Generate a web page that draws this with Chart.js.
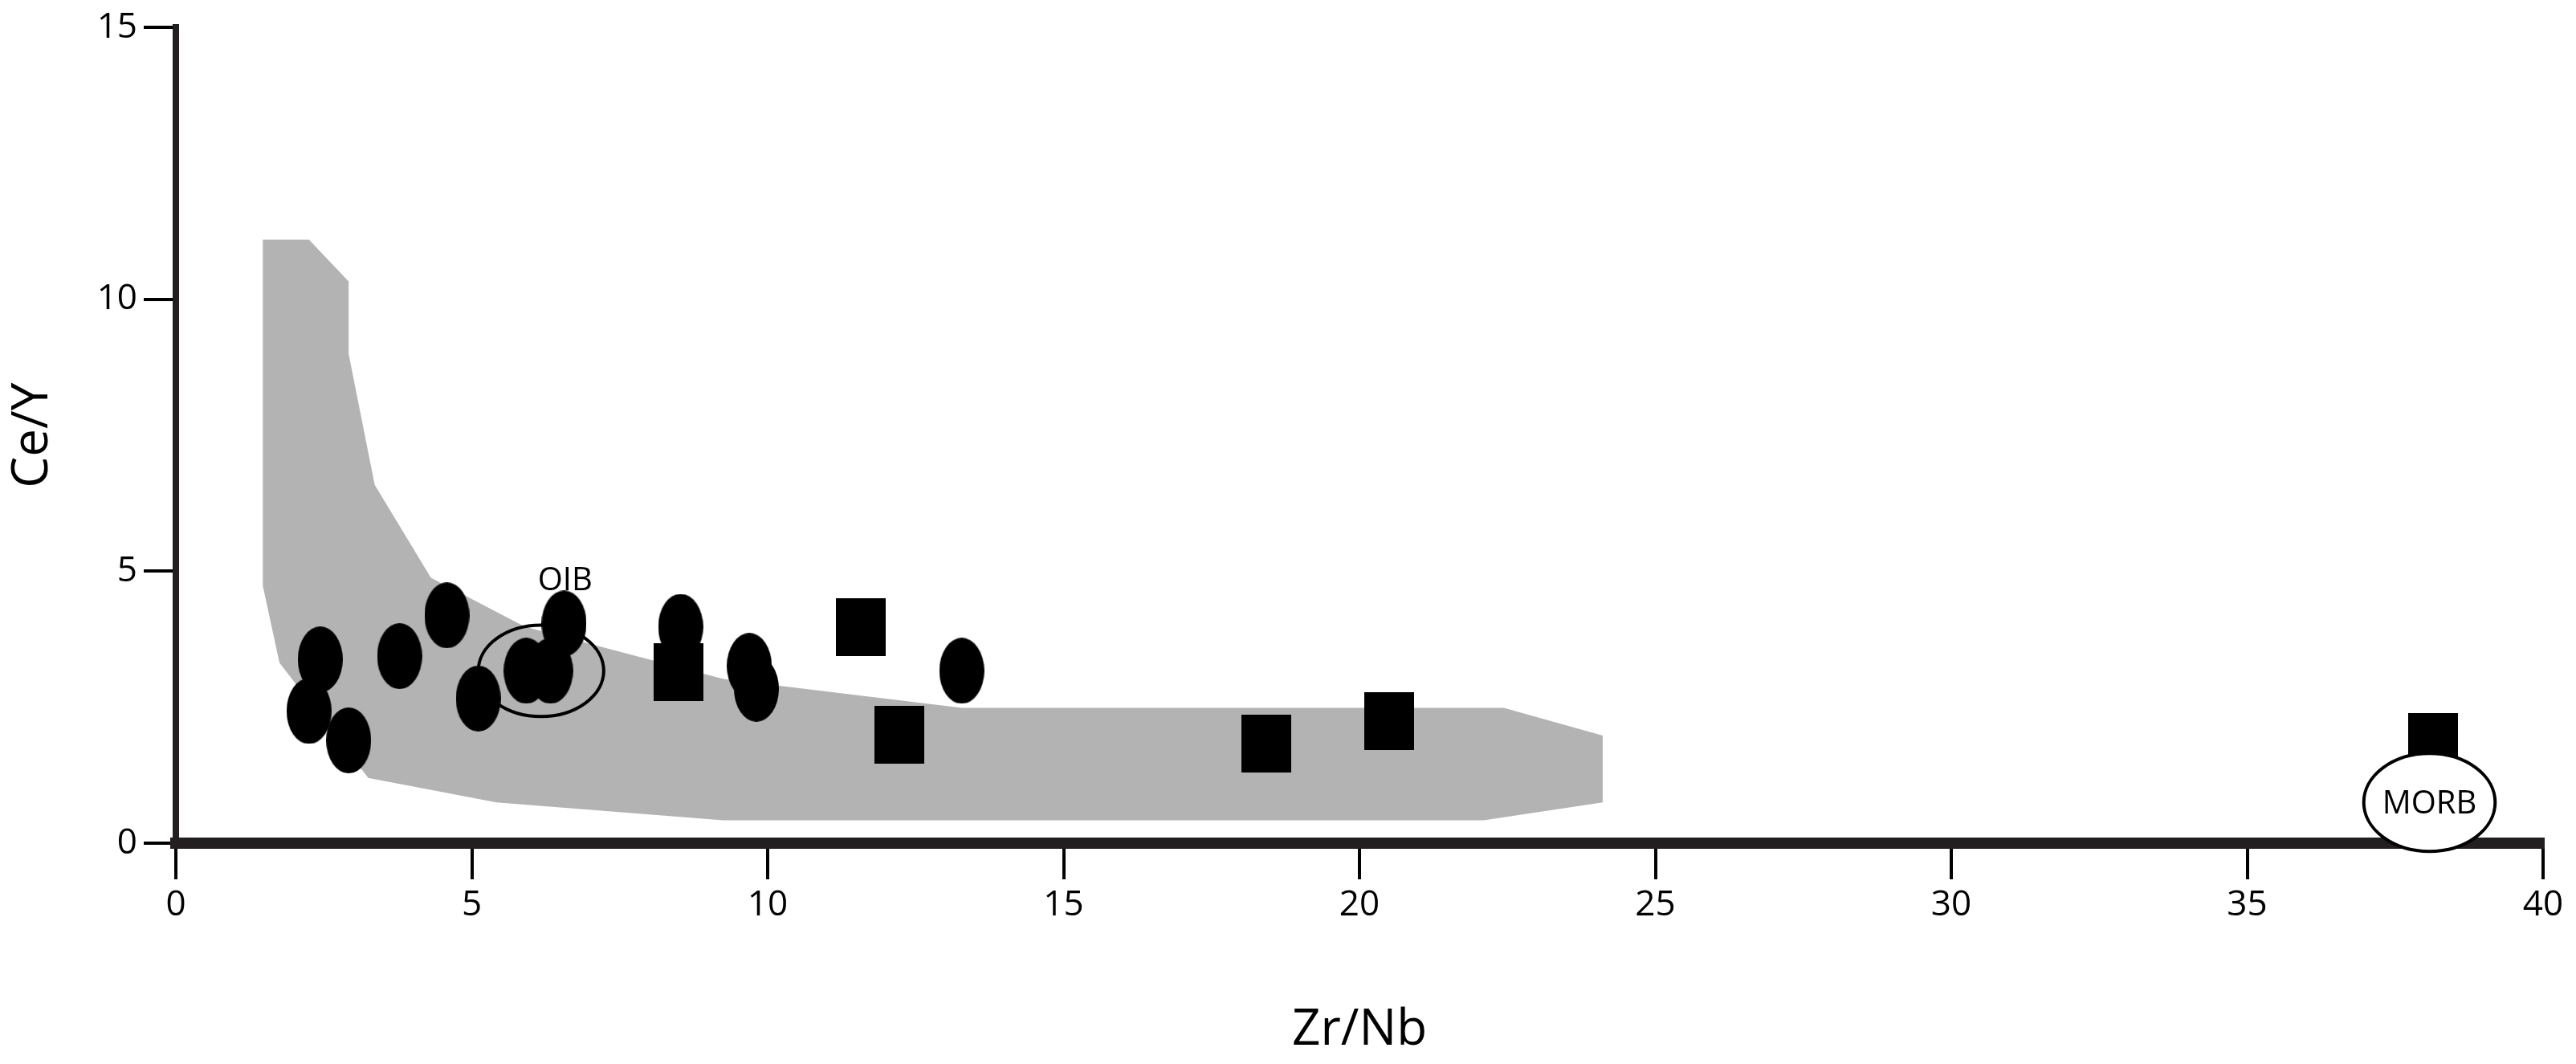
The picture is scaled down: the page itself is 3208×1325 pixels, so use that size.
<!DOCTYPE html>
<html><head><meta charset="utf-8">
<script src="https://cdn.jsdelivr.net/npm/chart.js@4.4.1/dist/chart.umd.min.js"></script>
<style>html,body{margin:0;padding:0;background:#fff}#wrap{width:3208px;height:1325px}</style>
</head><body><div id="wrap"><canvas id="c"></canvas></div>
<script>
const xTicks=[0,5,10,15,20,25,30,35,40];
const yTicks=[0,5,10,15];
const circleX=[2.44,2.25,2.92,3.78,4.58,5.11,5.92,6.33,6.56,8.53,9.69,9.81,13.28];
const circleY=[3.38,2.43,1.89,3.44,4.19,2.66,3.17,3.17,4.04,3.98,3.26,2.84,3.17];
const squareX=[8.5,11.58,12.22,18.42,20.5,38.14];
const squareY=[3.14,3.98,2.0,1.83,2.25,1.86];
const fieldX=[1.47,2.25,2.92,2.92,3.36,4.31,5.9,9.25,13.28,22.44,24.11,24.11,22.1,9.25,5.42,3.25,1.75,1.47,1.47];
const fieldY=[11.1,11.1,10.33,9.0,6.59,4.88,3.98,3.02,2.49,2.49,1.98,0.75,0.42,0.42,0.75,1.2,3.32,4.73,11.1];
const labelNames=["OIB","MORB"];
const labelX=[6.17,38.08];
const labelY=[3.17,0.75];
const labelRx=[1.06,1.11];
const labelRy=[0.84,0.9];

function mk(w,h,fn){const c=document.createElement('canvas');c.width=w;c.height=h;const g=c.getContext('2d');g.fillStyle='#000';fn(g,w,h);return c;}
const ell=mk(56,82,(g,w,h)=>{g.beginPath();g.ellipse(w/2,h/2,w/2,h/2,0,0,Math.PI*2);g.fill();});
const sq=mk(62,72,(g,w,h)=>{g.fillRect(0,0,w,h);});
const pts=(xs,ys)=>xs.map((x,i)=>({x:x,y:ys[i]}));
const F="'Open Sans', sans-serif";

const ellPlugin={id:'ell',afterDatasetsDraw(ch){
 const g=ch.ctx,xs=ch.scales.x,ys=ch.scales.y;
 labelNames.forEach((n,i)=>{
  const cx=xs.getPixelForValue(labelX[i]),cy=ys.getPixelForValue(labelY[i]);
  const rx=Math.abs(xs.getPixelForValue(labelX[i]+labelRx[i])-cx),ry=Math.abs(ys.getPixelForValue(labelY[i]+labelRy[i])-cy);
  g.save();g.lineWidth=4;g.strokeStyle='#000';g.beginPath();g.ellipse(cx,cy,rx,ry,0,0,Math.PI*2);
  if(n==='MORB'){g.fillStyle='#fff';g.fill();}
  g.stroke();
  g.fillStyle='#000';g.font="40px "+F;g.textAlign='center';g.textBaseline='middle';
  if(n==='MORB') g.fillText(n,cx,cy+2); else g.fillText(n,cx+30,cy-ry-55);
  g.restore();
 });
}};

new Chart(document.getElementById('c'),{
 type:'scatter',
 data:{datasets:[
  {data:pts(circleX,circleY),pointStyle:ell,order:1},
  {data:pts(squareX,squareY),pointStyle:sq,order:1},
  {type:'line',data:pts(fieldX,fieldY),fill:'shape',backgroundColor:'#b3b3b3',borderWidth:0,pointRadius:0,order:5,tension:0}
 ]},
 options:{responsive:true,maintainAspectRatio:false,animation:false,
  layout:{padding:{top:25,right:41,left:0,bottom:0}},
  plugins:{legend:{display:false},tooltip:{enabled:false}},
  scales:{
   x:{type:'linear',min:0,max:40,afterBuildTicks:s=>{s.ticks=xTicks.map(v=>({value:v}));},
    afterFit:s=>{s.height=275;},
    border:{color:'#231f20',width:14},
    grid:{drawOnChartArea:false,tickLength:45,tickColor:'#000',lineWidth:4},
    ticks:{color:'#000',font:{family:F,size:44},padding:6},
    title:{display:true,text:'Zr/Nb',color:'#000',font:{family:F,size:62},padding:{top:70}}},
   y:{type:'linear',min:0,max:15,afterBuildTicks:s=>{s.ticks=yTicks.map(v=>({value:v}));},
    afterFit:s=>{s.width=219;},
    border:{color:'#231f20',width:8},
    grid:{drawOnChartArea:false,tickLength:40,tickColor:'#000',lineWidth:4},
    ticks:{color:'#000',font:{family:F,size:44},padding:8},
    title:{display:true,text:'Ce/Y',color:'#000',font:{family:F,size:62},padding:{bottom:20}}}
  }},
 plugins:[ellPlugin]
});
</script></body></html>
